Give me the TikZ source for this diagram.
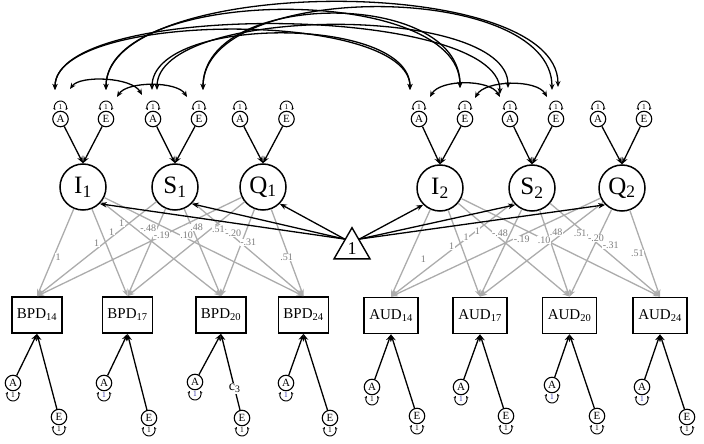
\documentclass[tikz,border=0pt]{standalone}
\usepackage{fontspec}
\setmainfont{Liberation Serif}
\usetikzlibrary{arrows.meta,shapes.geometric,calc}
\definecolor{loadgray}{RGB}{172,172,172}
\definecolor{labgray}{RGB}{125,125,125}
\definecolor{oneblue}{RGB}{45,45,170}
\newcommand\uploop[2][black]{%
  \draw[vloop] ($(#2)+(0,-12)+(150:6)$) arc[start angle=150,end angle=390,radius=6];
  \node[one,text=#1] at ($(#2)+(0,-12.3)$) {1};}
\newcommand\dnloop[2][black]{%
  \draw[vloop] ($(#2)+(0,12)+(210:6)$) arc[start angle=210,end angle=-30,radius=6];
  \node[one,text=#1] at ($(#2)+(0,12.3)$) {1};}
\begin{document}
\begin{tikzpicture}[x=1pt,y=-1pt,
  lat/.style={circle,draw,line width=1.5pt,minimum size=46pt,inner sep=0pt,font=\fontsize{25}{25}\selectfont},
  ace/.style={circle,draw,line width=1.1pt,minimum size=15.5pt,inner sep=0pt,font=\fontsize{11}{11}\selectfont},
  obs/.style={rectangle,draw,line width=1.7pt,minimum width=50pt,minimum height=36pt,inner sep=0pt,font=\fontsize{15}{15}\selectfont},
  obsw/.style={obs,minimum width=54pt},
  arr/.style={-{Stealth[length=7pt,width=5.5pt]},line width=1.3pt},
  load/.style={-{Stealth[length=7pt,width=5.5pt]},line width=1.3pt,draw=loadgray},
  lab/.style={font=\fontsize{10}{10}\selectfont,text=labgray,fill=white,inner sep=0.3pt},
  cov/.style={{Stealth[length=6pt,width=5pt]}-{Stealth[length=6pt,width=5pt]},line width=1.3pt},
  vloop/.style={{Stealth[length=2.6pt,width=2.6pt]}-{Stealth[length=2.6pt,width=2.6pt]},line width=0.9pt},
  one/.style={font=\fontsize{7.5}{7.5}\selectfont,inner sep=0pt}
]
\useasboundingbox (0,0) rectangle (704,444);

% latent growth factors
\node[lat] (I1) at (83,187) {I\textsubscript{1}};
\node[lat] (S1) at (175,187) {S\textsubscript{1}};
\node[lat] (Q1) at (263,187) {Q\textsubscript{1}};
\node[lat] (I2) at (440,188) {I\textsubscript{2}};
\node[lat] (S2) at (532,188) {S\textsubscript{2}};
\node[lat] (Q2) at (622,188) {Q\textsubscript{2}};

% constant
\node[draw,regular polygon,regular polygon sides=3,minimum size=41.6pt,inner sep=0pt,line width=1.4pt,font=\fontsize{18}{18}\selectfont] (tri) at (352,248.5) {1};

% top A/E factors
\node[ace] (aI1) at (60.5,119) {A};
\node[ace] (eI1) at (106,119) {E};
\node[ace] (aS1) at (153,119) {A};
\node[ace] (eS1) at (199,119) {E};
\node[ace] (aQ1) at (240,119) {A};
\node[ace] (eQ1) at (286.5,119) {E};
\node[ace] (aI2) at (419,119) {A};
\node[ace] (eI2) at (465,119) {E};
\node[ace] (aS2) at (510,119) {A};
\node[ace] (eS2) at (556,119) {E};
\node[ace] (aQ2) at (598,119) {A};
\node[ace] (eQ2) at (644,119) {E};
\foreach \n in {aI1,eI1,aS1,eS1,aQ1,eQ1,aI2,eI2,aS2,eS2,aQ2,eQ2} {\uploop{\n}}

% observed
\node[obs] (B14) at (37,315) {BPD\textsubscript{14}};
\node[obs] (B17) at (127.5,315) {BPD\textsubscript{17}};
\node[obs] (B20) at (221,315) {BPD\textsubscript{20}};
\node[obs] (B24) at (303.5,315) {BPD\textsubscript{24}};
\node[obsw] (A14) at (391,315.5) {AUD\textsubscript{14}};
\node[obsw] (A17) at (480,315.5) {AUD\textsubscript{17}};
\node[obsw] (A20) at (569.5,315.5) {AUD\textsubscript{20}};
\node[obsw] (A24) at (660,315.5) {AUD\textsubscript{24}};

% residual A/E factors
\node[ace] (rA14) at (13,383) {A};   \node[ace] (rE14) at (59,417) {E};
\node[ace] (rA17) at (104,383) {A};  \node[ace] (rE17) at (149,418) {E};
\node[ace] (rA20) at (195,382) {A};  \node[ace] (rE20) at (242,418) {E};
\node[ace] (rA24) at (286,383) {A};  \node[ace] (rE24) at (330,418) {E};
\node[ace] (sA14) at (372,387) {A};  \node[ace] (sE14) at (417,416) {E};
\node[ace] (sA17) at (461,387) {A};  \node[ace] (sE17) at (506,416) {E};
\node[ace] (sA20) at (552,385) {A};  \node[ace] (sE20) at (597,416) {E};
\node[ace] (sA24) at (642,387) {A};  \node[ace] (sE24) at (687,417) {E};
\dnloop{rA14} \dnloop[oneblue]{rA17} \dnloop[oneblue]{rA20} \dnloop[oneblue]{rA24}
\dnloop{sA14} \dnloop[oneblue]{sA17} \dnloop[oneblue]{sA20} \dnloop[oneblue]{sA24}
\foreach \n in {rE14,rE17,rE20,rE24,sE14,sE17,sE20,sE24} {\dnloop{\n}}

% residual paths
\foreach \b in {14,17,24} {
  \draw[arr] (rA\b) -- (B\b.south);
  \draw[arr] (rE\b) -- (B\b.south);}
\draw[arr] (rA20) -- (B20.south);
\draw[arr] (rE20) -- node[pos=0.28,fill=white,inner sep=1pt,font=\fontsize{14}{14}\selectfont]{c\textsubscript{3}} (B20.south);
\foreach \b in {14,17,20,24} {
  \draw[arr] (sA\b) -- (A\b.south);
  \draw[arr] (sE\b) -- (A\b.south);}

% A/E to growth factors
\foreach \f in {I1,S1,Q1,I2,S2,Q2} {
  \draw[arr] (a\f) -- (\f.north);
  \draw[arr] (e\f) -- (\f.north);}

% loadings
\foreach \l in {I1,S1,Q1} {
  \foreach \b in {B14,B17,B20,B24} {\draw[load] (\l) -- (\b.north);}}
\foreach \l in {I2,S2,Q2} {
  \foreach \b in {A14,A17,A20,A24} {\draw[load] (\l) -- (\b.north);}}

% loading labels
\foreach \x/\y/\t [count=\i] in {58/257/1,96.7/243.3/1,111.7/231.7/1,121.7/223.3/1,
  148.3/228.3/-.48,161.7/235/-.19,186.7/235.7/.10,196.7/227.7/.48,
  218.3/229/.51,233.3/233.3/-.20,248.3/242.3/-.31,286.7/257.7/.51,
  423.3/259/1,451.7/246/1,466/237.3/1,477.3/230.7/1,
  500/233.3/-.48,521.7/239.3/-.19,544/240/.10,556/232.7/.48,
  580/233.3/.51,596/238.3/-.20,610.7/245/-.31,637.3/253.3/.51} {
  \node[lab] (ld\i) at (\x,\y) {\t};}

% means
\foreach \f in {I1,S1,Q1} {\draw[arr] (tri.128) -- (\f.south east);}
\foreach \f in {I2,S2,Q2} {\draw[arr] (tri.52) -- (\f.south west);}

% covariance end points
\coordinate (caI1) at (55,90);
\coordinate (ceI1) at (106,90);
\coordinate (caS1a) at (152,90);
\coordinate (caS1b) at (157,90);
\coordinate (ceS1) at (203,90);
\coordinate (caI2) at (410,90);
\coordinate (ceI2) at (460,88);
\coordinate (caS2a) at (500,94);
\coordinate (caS2b) at (508,88);
\coordinate (ceS2a) at (552,90);
\coordinate (ceS2b) at (558,87);
% long covariances
\draw[cov] (caI1) .. controls +(0,-80) and +(0,-80) .. (caI2);
\draw[cov] (caS1a) .. controls +(0,-75) and +(0,-75) .. (caI2);
\draw[cov] (caI1) .. controls +(0,-90) and +(0,-90) .. (caS2a);
\draw[cov] (caS1b) .. controls +(0,-85) and +(0,-85) .. (caS2b);
\draw[cov] (ceI1) .. controls +(0,-105) and +(0,-105) .. (ceI2);
\draw[cov] (ceS1) .. controls +(0,-100) and +(0,-100) .. (ceI2);
\draw[cov] (ceI1) .. controls +(0,-115) and +(0,-115) .. (ceS2b);
\draw[cov] (ceS1) .. controls +(0,-110) and +(0,-110) .. (ceS2a);
% short covariances
\coordinate (sa1) at (70,89);  \coordinate (sa2) at (142,95);
\coordinate (se1) at (117,97); \coordinate (se2) at (187,97);
\coordinate (ta1) at (430,97); \coordinate (ta2) at (500,97);
\coordinate (te1) at (475,98); \coordinate (te2) at (547,97);
\draw[cov] (sa1) .. controls +(10,-14) and +(-10,-18) .. (sa2);
\draw[cov] (se1) .. controls +(10,-16) and +(-10,-16) .. (se2);
\draw[cov] (ta1) .. controls +(10,-18) and +(-10,-18) .. (ta2);
\draw[cov] (te1) .. controls +(10,-18) and +(-10,-18) .. (te2);
\end{tikzpicture}
\end{document}
